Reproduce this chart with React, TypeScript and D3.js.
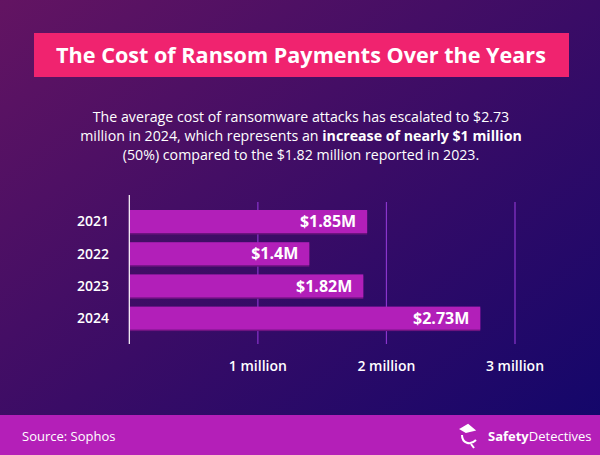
import React, { useRef, useEffect } from 'react';
import * as d3 from 'd3';

const years = ['2021', '2022', '2023', '2024'];
const costs = [1.85, 1.4, 1.82, 2.73];
const costLabels = ['$1.85M', '$1.4M', '$1.82M', '$2.73M'];
const ticks = [1, 2, 3];
const tickLabels = ['1 million', '2 million', '3 million'];

const W = 600;
const H = 455;
const FONT = '"Open Sans", sans-serif';

const App = () => {
  const ref = useRef<SVGSVGElement>(null);

  useEffect(() => {
    const svg = d3.select(ref.current);
    svg.selectAll('*').remove();

    const defs = svg.append('defs');
    const grad = defs.append('linearGradient')
      .attr('id', 'bg')
      .attr('x1', '0').attr('y1', '0')
      .attr('x2', '1').attr('y2', '1');
    grad.append('stop').attr('offset', '0%').attr('stop-color', '#631462');
    grad.append('stop').attr('offset', '50%').attr('stop-color', '#3a0c66');
    grad.append('stop').attr('offset', '100%').attr('stop-color', '#10066b');

    svg.append('rect')
      .attr('width', W).attr('height', H)
      .attr('fill', 'url(#bg)');

    // title
    svg.append('rect')
      .attr('x', 34).attr('y', 33)
      .attr('width', 535).attr('height', 44)
      .attr('fill', '#f0236f');
    svg.append('text')
      .attr('x', 301).attr('y', 55)
      .attr('dy', '0.35em')
      .attr('text-anchor', 'middle')
      .attr('fill', '#fff')
      .style('font-family', FONT)
      .style('font-size', '21.6px')
      .style('font-weight', 700)
      .text('The Cost of Ransom Payments Over the Years');

    // subtitle
    const sub = svg.append('text')
      .attr('text-anchor', 'middle')
      .attr('fill', '#fff')
      .style('font-family', FONT)
      .style('font-size', '14.2px');
    sub.append('tspan').attr('x', 301).attr('y', 122)
      .text('The average cost of ransomware attacks has escalated to $2.73');
    const l2 = sub.append('tspan').attr('x', 301).attr('y', 141);
    l2.append('tspan').text('million in 2024, which represents an ');
    l2.append('tspan').style('font-weight', 700).text('increase of nearly $1 million');
    sub.append('tspan').attr('x', 301).attr('y', 160)
      .text('(50%) compared to the $1.82 million reported in 2023.');

    // chart
    const x = d3.scaleLinear().domain([0, 3]).range([129.3, 515]);
    const y = d3.scaleBand<string>()
      .domain(years)
      .range([205.4, 334.2])
      .paddingInner(0.286)
      .paddingOuter(0.143);

    svg.append('g')
      .selectAll('line')
      .data(ticks)
      .enter().append('line')
      .attr('x1', d => x(d)).attr('x2', d => x(d))
      .attr('y1', 202).attr('y2', 344)
      .attr('stroke', '#8a35cc')
      .attr('stroke-width', 1.2);

    svg.append('g')
      .selectAll('text')
      .data(ticks)
      .enter().append('text')
      .attr('x', d => x(d))
      .attr('y', 366)
      .attr('dy', '0.35em')
      .attr('text-anchor', 'middle')
      .attr('fill', '#fff')
      .style('font-family', FONT)
      .style('font-size', '14px')
      .style('font-weight', 600)
      .text((d, i) => tickLabels[i]);

    const bars = svg.append('g')
      .selectAll('g')
      .data(years)
      .enter().append('g');

    bars.append('rect')
      .attr('x', x(0))
      .attr('y', d => (y(d) as number) + 1.5)
      .attr('width', (d, i) => x(costs[i]) - x(0))
      .attr('height', y.bandwidth())
      .attr('fill', '#6e1380');

    bars.append('rect')
      .attr('x', x(0))
      .attr('y', d => y(d) as number)
      .attr('width', (d, i) => x(costs[i]) - x(0))
      .attr('height', y.bandwidth())
      .attr('fill', '#b21fb9');

    bars.append('text')
      .attr('x', (d, i) => x(costs[i]) - 11)
      .attr('y', d => (y(d) as number) + y.bandwidth() / 2)
      .attr('dy', '0.35em')
      .attr('text-anchor', 'end')
      .attr('fill', '#fff')
      .style('font-family', FONT)
      .style('font-size', '16px')
      .style('font-weight', 700)
      .text((d, i) => costLabels[i]);

    bars.append('text')
      .attr('x', 109)
      .attr('y', d => (y(d) as number) + y.bandwidth() / 2)
      .attr('dy', '0.35em')
      .attr('text-anchor', 'end')
      .attr('fill', '#fff')
      .style('font-family', FONT)
      .style('font-size', '14px')
      .style('font-weight', 600)
      .text(d => d);

    svg.append('line')
      .attr('x1', x(0)).attr('x2', x(0))
      .attr('y1', 195).attr('y2', 344)
      .attr('stroke', '#fff')
      .attr('stroke-width', 1.2);

    // footer
    svg.append('rect')
      .attr('x', 0).attr('y', 415)
      .attr('width', W).attr('height', 40)
      .attr('fill', '#b41fb8');
    svg.append('text')
      .attr('x', 22).attr('y', 436)
      .attr('dy', '0.35em')
      .attr('fill', '#fff')
      .style('font-family', FONT)
      .style('font-size', '13px')
      .text('Source: Sophos');

    const logo = svg.append('g').attr('fill', 'none').attr('stroke', '#fff').attr('stroke-width', 2);
    logo.append('path').attr('d', 'M461 429 L468 425 L474 430 L466 432 Z').attr('fill', '#fff');
    logo.append('path').attr('d', 'M462 435 C462 443 470 446 476 440');
    logo.append('path').attr('d', 'M471 444 L474 448');

    const brand = svg.append('text')
      .attr('x', 488).attr('y', 436)
      .attr('dy', '0.35em')
      .attr('fill', '#fff')
      .style('font-family', FONT)
      .style('font-size', '13px');
    brand.append('tspan').style('font-weight', 700).text('Safety');
    brand.append('tspan').text('Detectives');
  }, []);

  return (
    <svg ref={ref} width={W} height={H} style={{ display: 'block', position: 'absolute', left: 0, top: 0 }}></svg>
  );
};

export default App;
